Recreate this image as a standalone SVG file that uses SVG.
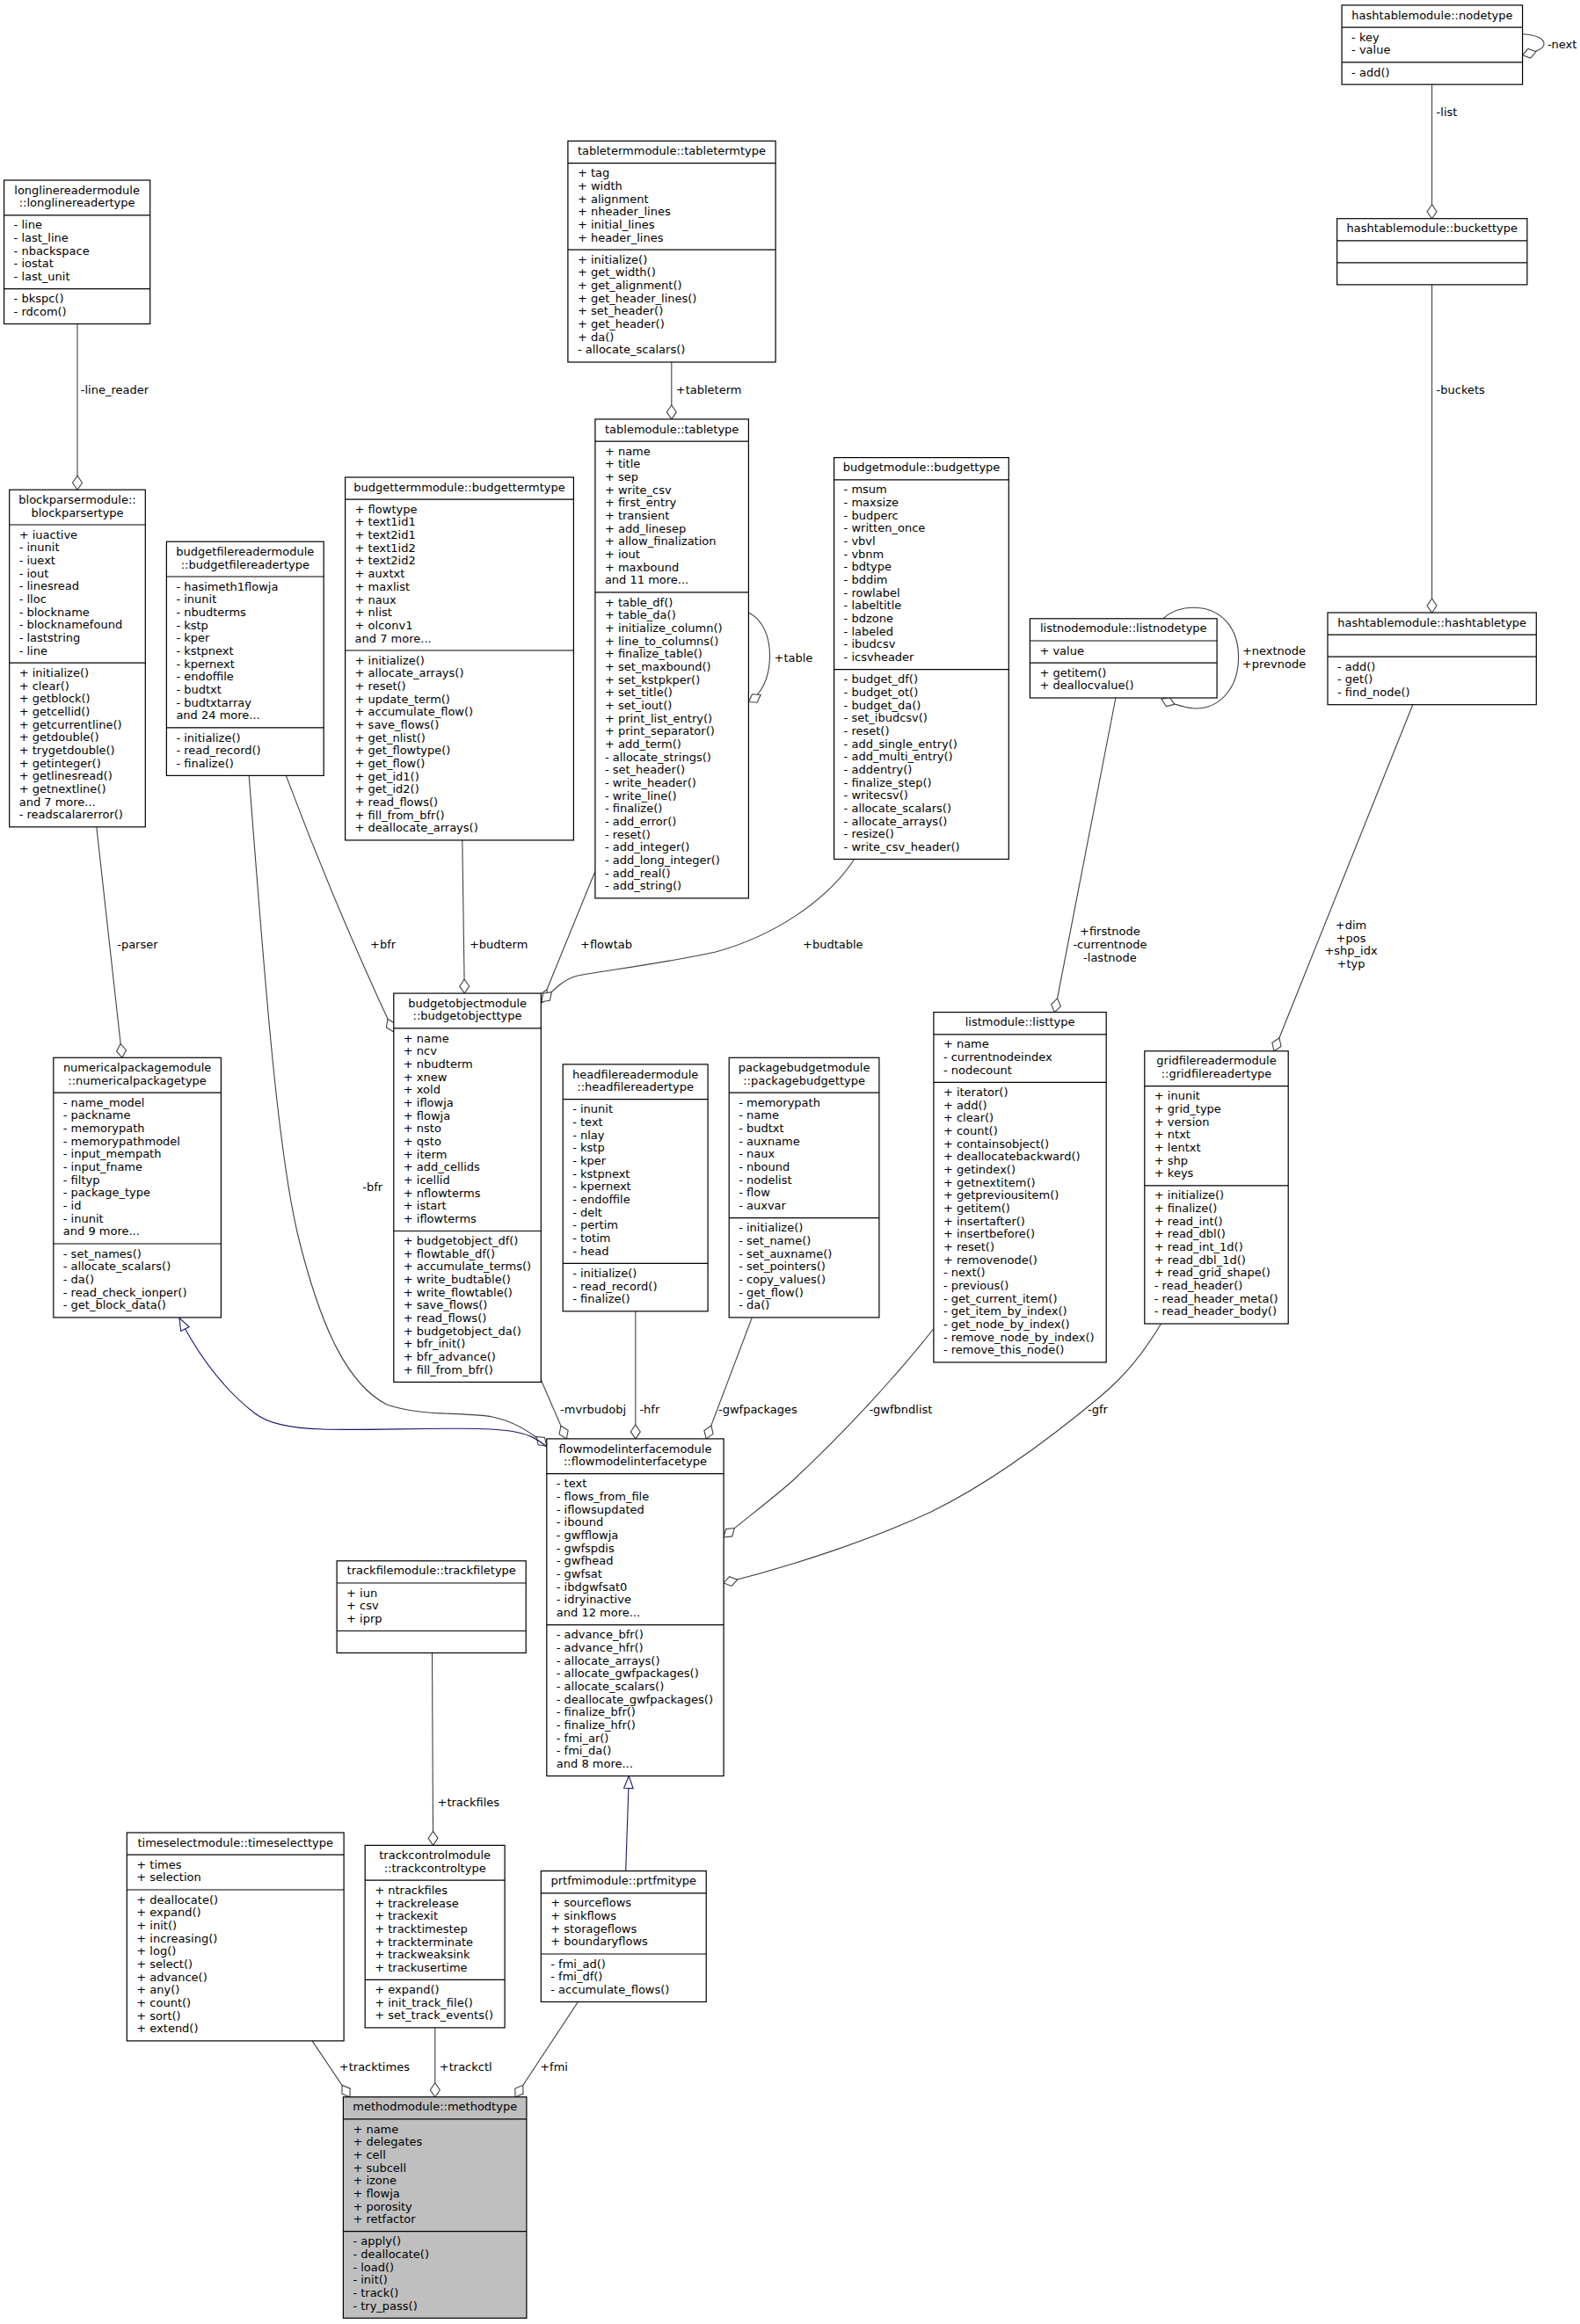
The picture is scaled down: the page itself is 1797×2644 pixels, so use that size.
<svg xmlns="http://www.w3.org/2000/svg" width="1797" height="2644" viewBox="0 0 1797 2644">
<style>
text{font-family:"DejaVu Sans","Liberation Sans",sans-serif;font-size:13px;fill:#000}
.t{text-anchor:middle}
.m{text-anchor:middle}
.n rect{fill:#fff;stroke:#000;stroke-width:1.2}
.n line{stroke:#000;stroke-width:1.2}
#methodtype rect{fill:#bfbfbf}
.e path{fill:none;stroke:#404040;stroke-width:1.1}
.e path.a{marker-end:url(#dia)}
.e path.i{stroke:#191970;marker-end:url(#tri)}
</style>
<defs>
<marker id="dia" markerUnits="userSpaceOnUse" orient="auto" refX="0" refY="0" markerWidth="20" markerHeight="14" overflow="visible"><path d="M0,0 L-8,-5.5 L-16,0 L-8,5.5 Z" fill="#fff" stroke="#404040" stroke-width="1.1"/></marker>
<marker id="tri" markerUnits="userSpaceOnUse" orient="auto" refX="0" refY="0" markerWidth="16" markerHeight="12" overflow="visible"><path d="M0,0 L-14,-5.3 L-14,5.3 Z" fill="#fff" stroke="#191970" stroke-width="1.1"/></marker>
</defs>
<rect x="0" y="0" width="1797" height="2644" fill="#fff"/>

<g id="connectors" class="e">
<path class="a" d="M88,368.5 L88,557.2"/>
<path class="a" d="M763.8,412 L763.8,476.9"/>
<path class="a" d="M1628.6,96.1 L1628.6,248.7"/>
<path class="a" d="M1731.6,38.7 C1747,39.5 1757,44 1756,50.5 C1755.5,55 1750,58 1731.6,62.8"/>
<path class="a" d="M1628.6,323.9 L1628.6,697"/>
<path class="a" d="M1322.5,703.8 C1335,693 1350,690.5 1362,691.5 C1390,693.5 1408.6,715 1408.6,748 C1408.6,782 1388,806 1360,806 C1350,806 1340,803 1321,795.5"/>
<path class="a" d="M1268.9,794 L1199.5,1151.6"/>
<path class="a" d="M1606.8,801.7 L1449,1195.8"/>
<path class="a" d="M109.8,940.8 L138.9,1203.3"/>
<path class="a" d="M325.3,882.4 C345,935 390,1050 447.8,1174"/>
<path class="a" d="M525.8,955.9 L528.3,1130.1"/>
<path class="a" d="M676.9,991.2 L615.8,1141"/>
<path class="a" d="M971.2,978.2 C940,1025 880,1065 814,1083 C760,1095 690,1104 657,1110 C640,1114 628,1128 615.8,1139.8"/>
<path class="a" d="M851.4,697 C868,705 876,725 875.5,748 C875,772 866,790 851.4,798.5"/>
<path class="a" d="M283.2,882.4 C300,1100 315,1310 340,1410 C365,1510 395,1575 440,1598 C480,1612 530,1606 560,1612 C585,1617 605,1630 621.8,1645"/>
<path class="a" d="M614.5,1568 L644.3,1636.9"/>
<path class="a" d="M722.8,1491.8 L722.8,1636.9"/>
<path class="a" d="M855.3,1498.9 L803.2,1636.9"/>
<path class="a" d="M1061.9,1511.5 C1020,1565 960,1630 900,1686 C870,1712 845,1730 823.1,1749"/>
<path class="a" d="M1320.5,1506 C1300,1540 1280,1565 1250,1590 C1190,1640 1120,1690 1059,1720 C990,1752 900,1782 823.1,1801"/>
<path class="a" d="M491.5,1880.5 L492.6,2099.4"/>
<path class="a" d="M355.1,2321.9 L398,2385.7"/>
<path class="a" d="M494.8,2306.9 L494.8,2385.7"/>
<path class="a" d="M657.4,2277.5 L586,2385.7"/>
<path class="i" d="M621.8,1646 C610,1636 600,1631 580,1628 C540,1622 420,1628 367,1626 C330,1625 305,1620 290,1608 C260,1585 230,1550 204,1499.5"/>
<path class="i" d="M711.7,2128.6 L715.3,2020.5"/>
<text x="91.8" y="447.7">-line_reader</text>
<text x="768.8" y="447.7">+tableterm</text>
<text x="1633.6" y="131.6">-list</text>
<text x="1759.9" y="54.6">-next</text>
<text x="1633.6" y="447.7">-buckets</text>
<text class="m" x="1449" y="744.9">+nextnode</text>
<text class="m" x="1449" y="759.6">+prevnode</text>
<text class="m" x="1262.4" y="1064.3">+firstnode</text>
<text class="m" x="1262.4" y="1079">-currentnode</text>
<text class="m" x="1262.4" y="1093.7">-lastnode</text>
<text class="m" x="1536.5" y="1056.8">+dim</text>
<text class="m" x="1536.5" y="1071.5">+pos</text>
<text class="m" x="1536.5" y="1086.2">+shp_idx</text>
<text class="m" x="1536.5" y="1100.9">+typ</text>
<text x="133.2" y="1079.1">-parser</text>
<text x="421" y="1079.1">+bfr</text>
<text x="533.9" y="1079.1">+budterm</text>
<text x="660" y="1079.1">+flowtab</text>
<text x="913" y="1079.1">+budtable</text>
<text x="880.5" y="752.9">+table</text>
<text x="412.2" y="1354.8">-bfr</text>
<text x="637.1" y="1607.7">-mvrbudobj</text>
<text x="727.4" y="1607.7">-hfr</text>
<text x="817" y="1607.7">-gwfpackages</text>
<text x="988.4" y="1607.7">-gwfbndlist</text>
<text x="1237.1" y="1607.7">-gfr</text>
<text x="497.5" y="2055.2">+trackfiles</text>
<text x="385.8" y="2356.3">+tracktimes</text>
<text x="499.8" y="2356.3">+trackctl</text>
<text x="614.2" y="2356.3">+fmi</text>
</g>

<g id="longlinereadertype" class="n">
<rect x="4.6" y="205" width="166.1" height="163.5"/>
<line x1="4.6" y1="244.8" x2="170.7" y2="244.8"/><line x1="4.6" y1="328.7" x2="170.7" y2="328.7"/>
<text class="t" x="87.6" y="220.6">longlinereadermodule</text><text class="t" x="87.6" y="235.3">::longlinereadertype</text>
<text x="15.6" y="260.4">- line</text><text x="15.6" y="275.1">- last_line</text><text x="15.6" y="289.8">- nbackspace</text><text x="15.6" y="304.4">- iostat</text><text x="15.6" y="319.1">- last_unit</text>
<text x="15.6" y="344.3">- bkspc()</text><text x="15.6" y="359">- rdcom()</text>
</g>

<g id="blockparsertype" class="n">
<rect x="10.7" y="557.2" width="154.6" height="383.6"/>
<line x1="10.7" y1="597" x2="165.3" y2="597"/><line x1="10.7" y1="754.2" x2="165.3" y2="754.2"/>
<text class="t" x="88" y="572.8">blockparsermodule::</text><text class="t" x="88" y="587.5">blockparsertype</text>
<text x="21.7" y="612.6">+ iuactive</text><text x="21.7" y="627.3">- inunit</text><text x="21.7" y="642">- iuext</text><text x="21.7" y="656.7">- iout</text><text x="21.7" y="671.3">- linesread</text><text x="21.7" y="686">- lloc</text><text x="21.7" y="700.7">- blockname</text><text x="21.7" y="715.3">- blocknamefound</text><text x="21.7" y="730">- laststring</text><text x="21.7" y="744.7">- line</text>
<text x="21.7" y="769.8">+ initialize()</text><text x="21.7" y="784.5">+ clear()</text><text x="21.7" y="799.2">+ getblock()</text><text x="21.7" y="813.9">+ getcellid()</text><text x="21.7" y="828.5">+ getcurrentline()</text><text x="21.7" y="843.2">+ getdouble()</text><text x="21.7" y="857.9">+ trygetdouble()</text><text x="21.7" y="872.5">+ getinteger()</text><text x="21.7" y="887.2">+ getlinesread()</text><text x="21.7" y="901.9">+ getnextline()</text><text x="21.7" y="916.5">and 7 more...</text><text x="21.7" y="931.2">- readscalarerror()</text>
</g>

<g id="budgetfilereadertype" class="n">
<rect x="189.4" y="616.2" width="178.8" height="266.2"/>
<line x1="189.4" y1="656" x2="368.2" y2="656"/><line x1="189.4" y1="827.9" x2="368.2" y2="827.9"/>
<text class="t" x="278.8" y="631.8">budgetfilereadermodule</text><text class="t" x="278.8" y="646.5">::budgetfilereadertype</text>
<text x="200.4" y="671.6">- hasimeth1flowja</text><text x="200.4" y="686.3">- inunit</text><text x="200.4" y="701">- nbudterms</text><text x="200.4" y="715.7">- kstp</text><text x="200.4" y="730.3">- kper</text><text x="200.4" y="745">- kstpnext</text><text x="200.4" y="759.7">- kpernext</text><text x="200.4" y="774.3">- endoffile</text><text x="200.4" y="789">- budtxt</text><text x="200.4" y="803.7">- budtxtarray</text><text x="200.4" y="818.3">and 24 more...</text>
<text x="200.4" y="843.5">- initialize()</text><text x="200.4" y="858.2">- read_record()</text><text x="200.4" y="872.9">- finalize()</text>
</g>

<g id="budgettermtype" class="n">
<rect x="392.6" y="543" width="259.8" height="412.9"/>
<line x1="392.6" y1="568.2" x2="652.4" y2="568.2"/><line x1="392.6" y1="740" x2="652.4" y2="740"/>
<text class="t" x="522.5" y="558.6">budgettermmodule::budgettermtype</text>
<text x="403.6" y="583.8">+ flowtype</text><text x="403.6" y="598.4">+ text1id1</text><text x="403.6" y="613.1">+ text2id1</text><text x="403.6" y="627.8">+ text1id2</text><text x="403.6" y="642.4">+ text2id2</text><text x="403.6" y="657.1">+ auxtxt</text><text x="403.6" y="671.8">+ maxlist</text><text x="403.6" y="686.5">+ naux</text><text x="403.6" y="701.1">+ nlist</text><text x="403.6" y="715.8">+ olconv1</text><text x="403.6" y="730.5">and 7 more...</text>
<text x="403.6" y="755.6">+ initialize()</text><text x="403.6" y="770.3">+ allocate_arrays()</text><text x="403.6" y="785">+ reset()</text><text x="403.6" y="799.6">+ update_term()</text><text x="403.6" y="814.3">+ accumulate_flow()</text><text x="403.6" y="829">+ save_flows()</text><text x="403.6" y="843.6">+ get_nlist()</text><text x="403.6" y="858.3">+ get_flowtype()</text><text x="403.6" y="873">+ get_flow()</text><text x="403.6" y="887.6">+ get_id1()</text><text x="403.6" y="902.3">+ get_id2()</text><text x="403.6" y="917">+ read_flows()</text><text x="403.6" y="931.6">+ fill_from_bfr()</text><text x="403.6" y="946.3">+ deallocate_arrays()</text>
</g>

<g id="tabletermtype" class="n">
<rect x="645.9" y="160.4" width="236.2" height="251.6"/>
<line x1="645.9" y1="185.6" x2="882.1" y2="185.6"/><line x1="645.9" y1="284.1" x2="882.1" y2="284.1"/>
<text class="t" x="764" y="176">tabletermmodule::tabletermtype</text>
<text x="656.9" y="201.2">+ tag</text><text x="656.9" y="215.8">+ width</text><text x="656.9" y="230.5">+ alignment</text><text x="656.9" y="245.2">+ nheader_lines</text><text x="656.9" y="259.8">+ initial_lines</text><text x="656.9" y="274.5">+ header_lines</text>
<text x="656.9" y="299.7">+ initialize()</text><text x="656.9" y="314.4">+ get_width()</text><text x="656.9" y="329">+ get_alignment()</text><text x="656.9" y="343.7">+ get_header_lines()</text><text x="656.9" y="358.4">+ set_header()</text><text x="656.9" y="373">+ get_header()</text><text x="656.9" y="387.7">+ da()</text><text x="656.9" y="402.4">- allocate_scalars()</text>
</g>

<g id="tabletype" class="n">
<rect x="676.9" y="476.9" width="174.5" height="545"/>
<line x1="676.9" y1="502.1" x2="851.4" y2="502.1"/><line x1="676.9" y1="673.9" x2="851.4" y2="673.9"/>
<text class="t" x="764.2" y="492.5">tablemodule::tabletype</text>
<text x="687.9" y="517.7">+ name</text><text x="687.9" y="532.3">+ title</text><text x="687.9" y="547">+ sep</text><text x="687.9" y="561.7">+ write_csv</text><text x="687.9" y="576.3">+ first_entry</text><text x="687.9" y="591">+ transient</text><text x="687.9" y="605.7">+ add_linesep</text><text x="687.9" y="620.4">+ allow_finalization</text><text x="687.9" y="635">+ iout</text><text x="687.9" y="649.7">+ maxbound</text><text x="687.9" y="664.4">and 11 more...</text>
<text x="687.9" y="689.5">+ table_df()</text><text x="687.9" y="704.2">+ table_da()</text><text x="687.9" y="718.9">+ initialize_column()</text><text x="687.9" y="733.5">+ line_to_columns()</text><text x="687.9" y="748.2">+ finalize_table()</text><text x="687.9" y="762.9">+ set_maxbound()</text><text x="687.9" y="777.5">+ set_kstpkper()</text><text x="687.9" y="792.2">+ set_title()</text><text x="687.9" y="806.9">+ set_iout()</text><text x="687.9" y="821.5">+ print_list_entry()</text><text x="687.9" y="836.2">+ print_separator()</text><text x="687.9" y="850.9">+ add_term()</text><text x="687.9" y="865.5">- allocate_strings()</text><text x="687.9" y="880.2">- set_header()</text><text x="687.9" y="894.9">- write_header()</text><text x="687.9" y="909.6">- write_line()</text><text x="687.9" y="924.2">- finalize()</text><text x="687.9" y="938.9">- add_error()</text><text x="687.9" y="953.6">- reset()</text><text x="687.9" y="968.2">- add_integer()</text><text x="687.9" y="982.9">- add_long_integer()</text><text x="687.9" y="997.6">- add_real()</text><text x="687.9" y="1012.2">- add_string()</text>
</g>

<g id="budgettype" class="n">
<rect x="948.6" y="520.6" width="198.7" height="456.9"/>
<line x1="948.6" y1="545.8" x2="1147.3" y2="545.8"/><line x1="948.6" y1="761.7" x2="1147.3" y2="761.7"/>
<text class="t" x="1048" y="536.2">budgetmodule::budgettype</text>
<text x="959.6" y="561.4">- msum</text><text x="959.6" y="576">- maxsize</text><text x="959.6" y="590.7">- budperc</text><text x="959.6" y="605.4">- written_once</text><text x="959.6" y="620">- vbvl</text><text x="959.6" y="634.7">- vbnm</text><text x="959.6" y="649.4">- bdtype</text><text x="959.6" y="664.1">- bddim</text><text x="959.6" y="678.7">- rowlabel</text><text x="959.6" y="693.4">- labeltitle</text><text x="959.6" y="708.1">- bdzone</text><text x="959.6" y="722.7">- labeled</text><text x="959.6" y="737.4">- ibudcsv</text><text x="959.6" y="752.1">- icsvheader</text>
<text x="959.6" y="777.3">- budget_df()</text><text x="959.6" y="791.9">- budget_ot()</text><text x="959.6" y="806.6">- budget_da()</text><text x="959.6" y="821.3">- set_ibudcsv()</text><text x="959.6" y="835.9">- reset()</text><text x="959.6" y="850.6">- add_single_entry()</text><text x="959.6" y="865.3">- add_multi_entry()</text><text x="959.6" y="879.9">- addentry()</text><text x="959.6" y="894.6">- finalize_step()</text><text x="959.6" y="909.3">- writecsv()</text><text x="959.6" y="923.9">- allocate_scalars()</text><text x="959.6" y="938.6">- allocate_arrays()</text><text x="959.6" y="953.3">- resize()</text><text x="959.6" y="967.9">- write_csv_header()</text>
</g>

<g id="nodetype" class="n">
<rect x="1526.1" y="5.9" width="205.5" height="90.2"/>
<line x1="1526.1" y1="31.1" x2="1731.6" y2="31.1"/><line x1="1526.1" y1="70.9" x2="1731.6" y2="70.9"/>
<text class="t" x="1628.9" y="21.5">hashtablemodule::nodetype</text>
<text x="1537.1" y="46.7">- key</text><text x="1537.1" y="61.3">- value</text>
<text x="1537.1" y="86.5">- add()</text>
</g>

<g id="buckettype" class="n">
<rect x="1520.7" y="248.7" width="216.2" height="75.2"/>
<line x1="1520.7" y1="273.9" x2="1736.9" y2="273.9"/><line x1="1520.7" y1="298.9" x2="1736.9" y2="298.9"/>
<text class="t" x="1628.8" y="264.3">hashtablemodule::buckettype</text>
</g>

<g id="hashtabletype" class="n">
<rect x="1510" y="697" width="237.3" height="104.7"/>
<line x1="1510" y1="722.2" x2="1747.3" y2="722.2"/><line x1="1510" y1="747.2" x2="1747.3" y2="747.2"/>
<text class="t" x="1628.7" y="712.6">hashtablemodule::hashtabletype</text>
<text x="1521" y="762.8">- add()</text><text x="1521" y="777.4">- get()</text><text x="1521" y="792.1">- find_node()</text>
</g>

<g id="listnodetype" class="n">
<rect x="1171.4" y="703.8" width="212.7" height="90.2"/>
<line x1="1171.4" y1="729" x2="1384.1" y2="729"/><line x1="1171.4" y1="754.1" x2="1384.1" y2="754.1"/>
<text class="t" x="1277.8" y="719.4">listnodemodule::listnodetype</text>
<text x="1182.4" y="744.6">+ value</text>
<text x="1182.4" y="769.7">+ getitem()</text><text x="1182.4" y="784.4">+ deallocvalue()</text>
</g>

<g id="listtype" class="n">
<rect x="1061.9" y="1151.6" width="196.3" height="398.3"/>
<line x1="1061.9" y1="1176.8" x2="1258.2" y2="1176.8"/><line x1="1061.9" y1="1231.3" x2="1258.2" y2="1231.3"/>
<text class="t" x="1160.1" y="1167.2">listmodule::listtype</text>
<text x="1072.9" y="1192.4">+ name</text><text x="1072.9" y="1207">- currentnodeindex</text><text x="1072.9" y="1221.7">- nodecount</text>
<text x="1072.9" y="1246.9">+ iterator()</text><text x="1072.9" y="1261.5">+ add()</text><text x="1072.9" y="1276.2">+ clear()</text><text x="1072.9" y="1290.9">+ count()</text><text x="1072.9" y="1305.6">+ containsobject()</text><text x="1072.9" y="1320.2">+ deallocatebackward()</text><text x="1072.9" y="1334.9">+ getindex()</text><text x="1072.9" y="1349.6">+ getnextitem()</text><text x="1072.9" y="1364.2">+ getpreviousitem()</text><text x="1072.9" y="1378.9">+ getitem()</text><text x="1072.9" y="1393.6">+ insertafter()</text><text x="1072.9" y="1408.2">+ insertbefore()</text><text x="1072.9" y="1422.9">+ reset()</text><text x="1072.9" y="1437.6">+ removenode()</text><text x="1072.9" y="1452.2">- next()</text><text x="1072.9" y="1466.9">- previous()</text><text x="1072.9" y="1481.6">- get_current_item()</text><text x="1072.9" y="1496.3">- get_item_by_index()</text><text x="1072.9" y="1510.9">- get_node_by_index()</text><text x="1072.9" y="1525.6">- remove_node_by_index()</text><text x="1072.9" y="1540.3">- remove_this_node()</text>
</g>

<g id="gridfilereadertype" class="n">
<rect x="1301.8" y="1195.8" width="163.4" height="310.2"/>
<line x1="1301.8" y1="1235.6" x2="1465.2" y2="1235.6"/><line x1="1301.8" y1="1348.8" x2="1465.2" y2="1348.8"/>
<text class="t" x="1383.5" y="1211.4">gridfilereadermodule</text><text class="t" x="1383.5" y="1226.1">::gridfilereadertype</text>
<text x="1312.8" y="1251.2">+ inunit</text><text x="1312.8" y="1265.9">+ grid_type</text><text x="1312.8" y="1280.6">+ version</text><text x="1312.8" y="1295.2">+ ntxt</text><text x="1312.8" y="1309.9">+ lentxt</text><text x="1312.8" y="1324.6">+ shp</text><text x="1312.8" y="1339.2">+ keys</text>
<text x="1312.8" y="1364.4">+ initialize()</text><text x="1312.8" y="1379.1">+ finalize()</text><text x="1312.8" y="1393.8">+ read_int()</text><text x="1312.8" y="1408.4">+ read_dbl()</text><text x="1312.8" y="1423.1">+ read_int_1d()</text><text x="1312.8" y="1437.8">+ read_dbl_1d()</text><text x="1312.8" y="1452.4">+ read_grid_shape()</text><text x="1312.8" y="1467.1">- read_header()</text><text x="1312.8" y="1481.8">- read_header_meta()</text><text x="1312.8" y="1496.4">- read_header_body()</text>
</g>

<g id="numericalpackagetype" class="n">
<rect x="60.8" y="1203.3" width="190.6" height="295.6"/>
<line x1="60.8" y1="1243.1" x2="251.4" y2="1243.1"/><line x1="60.8" y1="1415" x2="251.4" y2="1415"/>
<text class="t" x="156.1" y="1218.9">numericalpackagemodule</text><text class="t" x="156.1" y="1233.6">::numericalpackagetype</text>
<text x="71.8" y="1258.7">- name_model</text><text x="71.8" y="1273.4">- packname</text><text x="71.8" y="1288.1">- memorypath</text><text x="71.8" y="1302.8">- memorypathmodel</text><text x="71.8" y="1317.4">- input_mempath</text><text x="71.8" y="1332.1">- input_fname</text><text x="71.8" y="1346.8">- filtyp</text><text x="71.8" y="1361.4">- package_type</text><text x="71.8" y="1376.1">- id</text><text x="71.8" y="1390.8">- inunit</text><text x="71.8" y="1405.4">and 9 more...</text>
<text x="71.8" y="1430.6">- set_names()</text><text x="71.8" y="1445.3">- allocate_scalars()</text><text x="71.8" y="1460">- da()</text><text x="71.8" y="1474.6">- read_check_ionper()</text><text x="71.8" y="1489.3">- get_block_data()</text>
</g>

<g id="budgetobjecttype" class="n">
<rect x="447.8" y="1130.1" width="167.5" height="442.3"/>
<line x1="447.8" y1="1169.9" x2="615.3" y2="1169.9"/><line x1="447.8" y1="1400.5" x2="615.3" y2="1400.5"/>
<text class="t" x="531.6" y="1145.7">budgetobjectmodule</text><text class="t" x="531.6" y="1160.4">::budgetobjecttype</text>
<text x="458.8" y="1185.5">+ name</text><text x="458.8" y="1200.2">+ ncv</text><text x="458.8" y="1214.9">+ nbudterm</text><text x="458.8" y="1229.6">+ xnew</text><text x="458.8" y="1244.2">+ xold</text><text x="458.8" y="1258.9">+ iflowja</text><text x="458.8" y="1273.6">+ flowja</text><text x="458.8" y="1288.2">+ nsto</text><text x="458.8" y="1302.9">+ qsto</text><text x="458.8" y="1317.6">+ iterm</text><text x="458.8" y="1332.2">+ add_cellids</text><text x="458.8" y="1346.9">+ icellid</text><text x="458.8" y="1361.6">+ nflowterms</text><text x="458.8" y="1376.2">+ istart</text><text x="458.8" y="1390.9">+ iflowterms</text>
<text x="458.8" y="1416.1">+ budgetobject_df()</text><text x="458.8" y="1430.8">+ flowtable_df()</text><text x="458.8" y="1445.4">+ accumulate_terms()</text><text x="458.8" y="1460.1">+ write_budtable()</text><text x="458.8" y="1474.8">+ write_flowtable()</text><text x="458.8" y="1489.4">+ save_flows()</text><text x="458.8" y="1504.1">+ read_flows()</text><text x="458.8" y="1518.8">+ budgetobject_da()</text><text x="458.8" y="1533.4">+ bfr_init()</text><text x="458.8" y="1548.1">+ bfr_advance()</text><text x="458.8" y="1562.8">+ fill_from_bfr()</text>
</g>

<g id="headfilereadertype" class="n">
<rect x="640.2" y="1210.9" width="164.9" height="280.9"/>
<line x1="640.2" y1="1250.7" x2="805.1" y2="1250.7"/><line x1="640.2" y1="1437.3" x2="805.1" y2="1437.3"/>
<text class="t" x="722.7" y="1226.5">headfilereadermodule</text><text class="t" x="722.7" y="1241.2">::headfilereadertype</text>
<text x="651.2" y="1266.3">- inunit</text><text x="651.2" y="1281">- text</text><text x="651.2" y="1295.7">- nlay</text><text x="651.2" y="1310.4">- kstp</text><text x="651.2" y="1325">- kper</text><text x="651.2" y="1339.7">- kstpnext</text><text x="651.2" y="1354.4">- kpernext</text><text x="651.2" y="1369">- endoffile</text><text x="651.2" y="1383.7">- delt</text><text x="651.2" y="1398.4">- pertim</text><text x="651.2" y="1413">- totim</text><text x="651.2" y="1427.7">- head</text>
<text x="651.2" y="1452.9">- initialize()</text><text x="651.2" y="1467.6">- read_record()</text><text x="651.2" y="1482.2">- finalize()</text>
</g>

<g id="packagebudgettype" class="n">
<rect x="829.2" y="1203.3" width="170.7" height="295.6"/>
<line x1="829.2" y1="1243.1" x2="999.9" y2="1243.1"/><line x1="829.2" y1="1385.7" x2="999.9" y2="1385.7"/>
<text class="t" x="914.6" y="1218.9">packagebudgetmodule</text><text class="t" x="914.6" y="1233.6">::packagebudgettype</text>
<text x="840.2" y="1258.7">- memorypath</text><text x="840.2" y="1273.4">- name</text><text x="840.2" y="1288.1">- budtxt</text><text x="840.2" y="1302.8">- auxname</text><text x="840.2" y="1317.4">- naux</text><text x="840.2" y="1332.1">- nbound</text><text x="840.2" y="1346.8">- nodelist</text><text x="840.2" y="1361.4">- flow</text><text x="840.2" y="1376.1">- auxvar</text>
<text x="840.2" y="1401.3">- initialize()</text><text x="840.2" y="1415.9">- set_name()</text><text x="840.2" y="1430.6">- set_auxname()</text><text x="840.2" y="1445.3">- set_pointers()</text><text x="840.2" y="1459.9">- copy_values()</text><text x="840.2" y="1474.6">- get_flow()</text><text x="840.2" y="1489.3">- da()</text>
</g>

<g id="flowmodelinterfacetype" class="n">
<rect x="621.8" y="1636.9" width="201.3" height="383.6"/>
<line x1="621.8" y1="1676.7" x2="823.1" y2="1676.7"/><line x1="621.8" y1="1848.6" x2="823.1" y2="1848.6"/>
<text class="t" x="722.5" y="1652.5">flowmodelinterfacemodule</text><text class="t" x="722.5" y="1667.2">::flowmodelinterfacetype</text>
<text x="632.8" y="1692.3">- text</text><text x="632.8" y="1707">- flows_from_file</text><text x="632.8" y="1721.7">- iflowsupdated</text><text x="632.8" y="1736.4">- ibound</text><text x="632.8" y="1751">- gwfflowja</text><text x="632.8" y="1765.7">- gwfspdis</text><text x="632.8" y="1780.4">- gwfhead</text><text x="632.8" y="1795">- gwfsat</text><text x="632.8" y="1809.7">- ibdgwfsat0</text><text x="632.8" y="1824.4">- idryinactive</text><text x="632.8" y="1839">and 12 more...</text>
<text x="632.8" y="1864.2">- advance_bfr()</text><text x="632.8" y="1878.9">- advance_hfr()</text><text x="632.8" y="1893.6">- allocate_arrays()</text><text x="632.8" y="1908.2">- allocate_gwfpackages()</text><text x="632.8" y="1922.9">- allocate_scalars()</text><text x="632.8" y="1937.6">- deallocate_gwfpackages()</text><text x="632.8" y="1952.2">- finalize_bfr()</text><text x="632.8" y="1966.9">- finalize_hfr()</text><text x="632.8" y="1981.6">- fmi_ar()</text><text x="632.8" y="1996.2">- fmi_da()</text><text x="632.8" y="2010.9">and 8 more...</text>
</g>

<g id="trackfiletype" class="n">
<rect x="383.1" y="1775.8" width="215.1" height="104.7"/>
<line x1="383.1" y1="1801" x2="598.2" y2="1801"/><line x1="383.1" y1="1855.5" x2="598.2" y2="1855.5"/>
<text class="t" x="490.7" y="1791.4">trackfilemodule::trackfiletype</text>
<text x="394.1" y="1816.6">+ iun</text><text x="394.1" y="1831.2">+ csv</text><text x="394.1" y="1845.9">+ iprp</text>
</g>

<g id="timeselecttype" class="n">
<rect x="144.3" y="2085" width="246.8" height="236.9"/>
<line x1="144.3" y1="2110.2" x2="391.1" y2="2110.2"/><line x1="144.3" y1="2150" x2="391.1" y2="2150"/>
<text class="t" x="267.7" y="2100.6">timeselectmodule::timeselecttype</text>
<text x="155.3" y="2125.8">+ times</text><text x="155.3" y="2140.4">+ selection</text>
<text x="155.3" y="2165.6">+ deallocate()</text><text x="155.3" y="2180.3">+ expand()</text><text x="155.3" y="2194.9">+ init()</text><text x="155.3" y="2209.6">+ increasing()</text><text x="155.3" y="2224.3">+ log()</text><text x="155.3" y="2238.9">+ select()</text><text x="155.3" y="2253.6">+ advance()</text><text x="155.3" y="2268.3">+ any()</text><text x="155.3" y="2282.9">+ count()</text><text x="155.3" y="2297.6">+ sort()</text><text x="155.3" y="2312.3">+ extend()</text>
</g>

<g id="trackcontroltype" class="n">
<rect x="415.2" y="2099.4" width="158.9" height="207.5"/>
<line x1="415.2" y1="2139.2" x2="574.1" y2="2139.2"/><line x1="415.2" y1="2252.4" x2="574.1" y2="2252.4"/>
<text class="t" x="494.7" y="2115">trackcontrolmodule</text><text class="t" x="494.7" y="2129.7">::trackcontroltype</text>
<text x="426.2" y="2154.8">+ ntrackfiles</text><text x="426.2" y="2169.5">+ trackrelease</text><text x="426.2" y="2184.2">+ trackexit</text><text x="426.2" y="2198.9">+ tracktimestep</text><text x="426.2" y="2213.5">+ trackterminate</text><text x="426.2" y="2228.2">+ trackweaksink</text><text x="426.2" y="2242.9">+ trackusertime</text>
<text x="426.2" y="2268">+ expand()</text><text x="426.2" y="2282.7">+ init_track_file()</text><text x="426.2" y="2297.4">+ set_track_events()</text>
</g>

<g id="prtfmitype" class="n">
<rect x="615.3" y="2128.6" width="187.9" height="148.9"/>
<line x1="615.3" y1="2153.8" x2="803.2" y2="2153.8"/><line x1="615.3" y1="2223" x2="803.2" y2="2223"/>
<text class="t" x="709.3" y="2144.2">prtfmimodule::prtfmitype</text>
<text x="626.3" y="2169.4">+ sourceflows</text><text x="626.3" y="2184">+ sinkflows</text><text x="626.3" y="2198.7">+ storageflows</text><text x="626.3" y="2213.4">+ boundaryflows</text>
<text x="626.3" y="2238.6">- fmi_ad()</text><text x="626.3" y="2253.2">- fmi_df()</text><text x="626.3" y="2267.9">- accumulate_flows()</text>
</g>

<g id="methodtype" class="n">
<rect x="390.4" y="2385.7" width="208.5" height="251.6"/>
<line x1="390.4" y1="2410.9" x2="598.9" y2="2410.9"/><line x1="390.4" y1="2538.7" x2="598.9" y2="2538.7"/>
<text class="t" x="494.7" y="2401.3">methodmodule::methodtype</text>
<text x="401.4" y="2426.5">+ name</text><text x="401.4" y="2441.1">+ delegates</text><text x="401.4" y="2455.8">+ cell</text><text x="401.4" y="2470.5">+ subcell</text><text x="401.4" y="2485.1">+ izone</text><text x="401.4" y="2499.8">+ flowja</text><text x="401.4" y="2514.5">+ porosity</text><text x="401.4" y="2529.2">+ retfactor</text>
<text x="401.4" y="2554.3">- apply()</text><text x="401.4" y="2569">- deallocate()</text><text x="401.4" y="2583.7">- load()</text><text x="401.4" y="2598.3">- init()</text><text x="401.4" y="2613">- track()</text><text x="401.4" y="2627.7">- try_pass()</text>
</g>
</svg>
